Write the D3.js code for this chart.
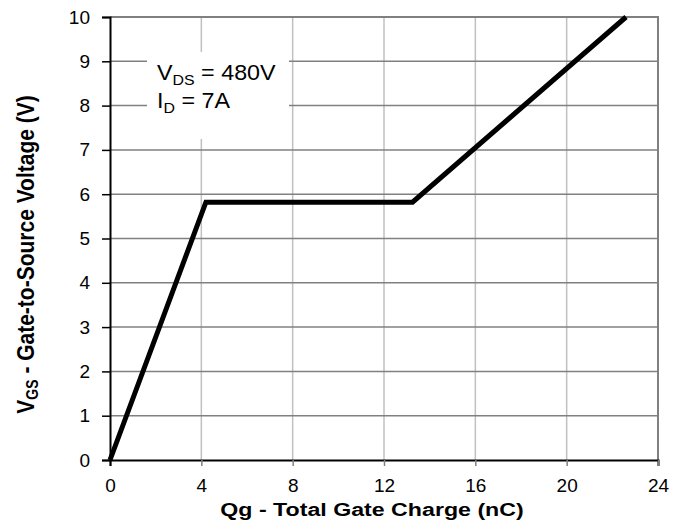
<!DOCTYPE html>
<html>
<head>
<meta charset="utf-8">
<script src="https://cdn.jsdelivr.net/npm/d3@7"></script>
<style>
  body { margin: 0; background: #fff; }
  text { font-family: "Liberation Sans", Arial, sans-serif; }
</style>
</head>
<body>
<div id="chart"></div>
<script>
// gate charge curve
let qg = [0, 4.2, 13.25, 22.6]
let vgs = [0, 5.82, 5.82, 10]
let xTicks = [0, 4, 8, 12, 16, 20, 24]
let yTicks = [0, 1, 2, 3, 4, 5, 6, 7, 8, 9, 10]

let margin = { top: 17, right: 15, bottom: 69, left: 110 };
let width = 673 - margin.left - margin.right,
    height = 529 - margin.top - margin.bottom;

let svg = d3.select("#chart")
    .append("svg")
    .attr("width", 673)
    .attr("height", 529)
    .append("g")
    .attr("transform", "translate(" + margin.left + "," + margin.top + ")")

let x = d3.scaleLinear().domain([0, 24]).range([0, width]);
let y = d3.scaleLinear().domain([0, 10]).range([height, 0]);

// grille
svg.append("g")
    .selectAll("line")
    .data(xTicks.slice(1, -1))
    .enter()
    .append("line")
    .attr("x1", d => x(d)).attr("x2", d => x(d))
    .attr("y1", 0).attr("y2", height)
    .attr("stroke", "#c0c0c0")
    .attr("stroke-width", 1.5)

svg.append("g")
    .selectAll("line")
    .data(yTicks.slice(1, -1))
    .enter()
    .append("line")
    .attr("x1", 0).attr("x2", width)
    .attr("y1", d => y(d)).attr("y2", d => y(d))
    .attr("stroke", "#808080")
    .attr("stroke-width", 1.5)

// bordure haut / droite
svg.append("path")
    .attr("d", `M0,${y(10)}H${x(24)}V${y(0)}`)
    .attr("fill", "none")
    .attr("stroke", "#808080")
    .attr("stroke-width", 2)

// encadré texte
svg.append("rect")
    .attr("x", 37).attr("y", 35)
    .attr("width", 142).attr("height", 87)
    .attr("fill", "#fff")

let label = svg.append("g")
    .attr("transform", "translate(47,0) scale(1.06,1)")
    .attr("font-size", 22).attr("fill", "#000")
let t1 = label.append("text").attr("x", 0).attr("y", 63)
t1.append("tspan").text("V")
t1.append("tspan").attr("font-size", 15).attr("dy", 5).text("DS")
t1.append("tspan").attr("dy", -5).text(" = 480V")
let t2 = label.append("text").attr("x", 0).attr("y", 91)
t2.append("tspan").text("I")
t2.append("tspan").attr("font-size", 15).attr("dy", 5).text("D")
t2.append("tspan").attr("dy", -5).text(" = 7A")

// axes
let xAxis = svg.append("g")
    .attr("transform", "translate(0," + height + ")")
    .call(d3.axisBottom(x).tickValues(xTicks).tickSize(6).tickPadding(13))
let yAxis = svg.append("g")
    .call(d3.axisLeft(y).tickValues(yTicks).tickSize(8).tickPadding(12))

;[xAxis, yAxis].forEach(a => {
    a.select(".domain").attr("stroke", "#000").attr("stroke-width", 2)
    a.selectAll(".tick line").attr("stroke", "#000").attr("stroke-width", 1.5)
    a.selectAll("text")
        .attr("font-size", 19)
        .attr("font-family", "Liberation Sans, Arial, sans-serif")
        .attr("fill", "#000")
})
xAxis.selectAll(".tick line").attr("stroke", "#808080")
xAxis.select(".tick line").attr("stroke", "#000")

// courbe
svg.append("path")
    .datum(qg.map((q, i) => [q, vgs[i]]))
    .attr("d", d3.line().x(d => x(d[0])).y(d => y(d[1])))
    .attr("fill", "none")
    .attr("stroke", "#000")
    .attr("stroke-width", 5)
    .attr("stroke-linejoin", "miter")

// titres des axes
svg.append("text")
    .attr("transform", `translate(262,${height + 56}) scale(1.22,1)`)
    .attr("text-anchor", "middle")
    .attr("font-size", 19)
    .attr("font-weight", "bold")
    .text("Qg - Total Gate Charge (nC)")

let yt = svg.append("text")
    .attr("transform", `translate(${-76},${height / 2 + 16}) rotate(-90) scale(1,1.12)`)
    .attr("text-anchor", "middle")
    .attr("font-size", 21)
    .attr("font-weight", "bold")
yt.append("tspan").text("V")
yt.append("tspan").attr("font-size", 14).attr("dy", 4).text("GS")
yt.append("tspan").attr("dy", -4).text(" - Gate-to-Source Voltage (V)")
</script>
</body>
</html>
